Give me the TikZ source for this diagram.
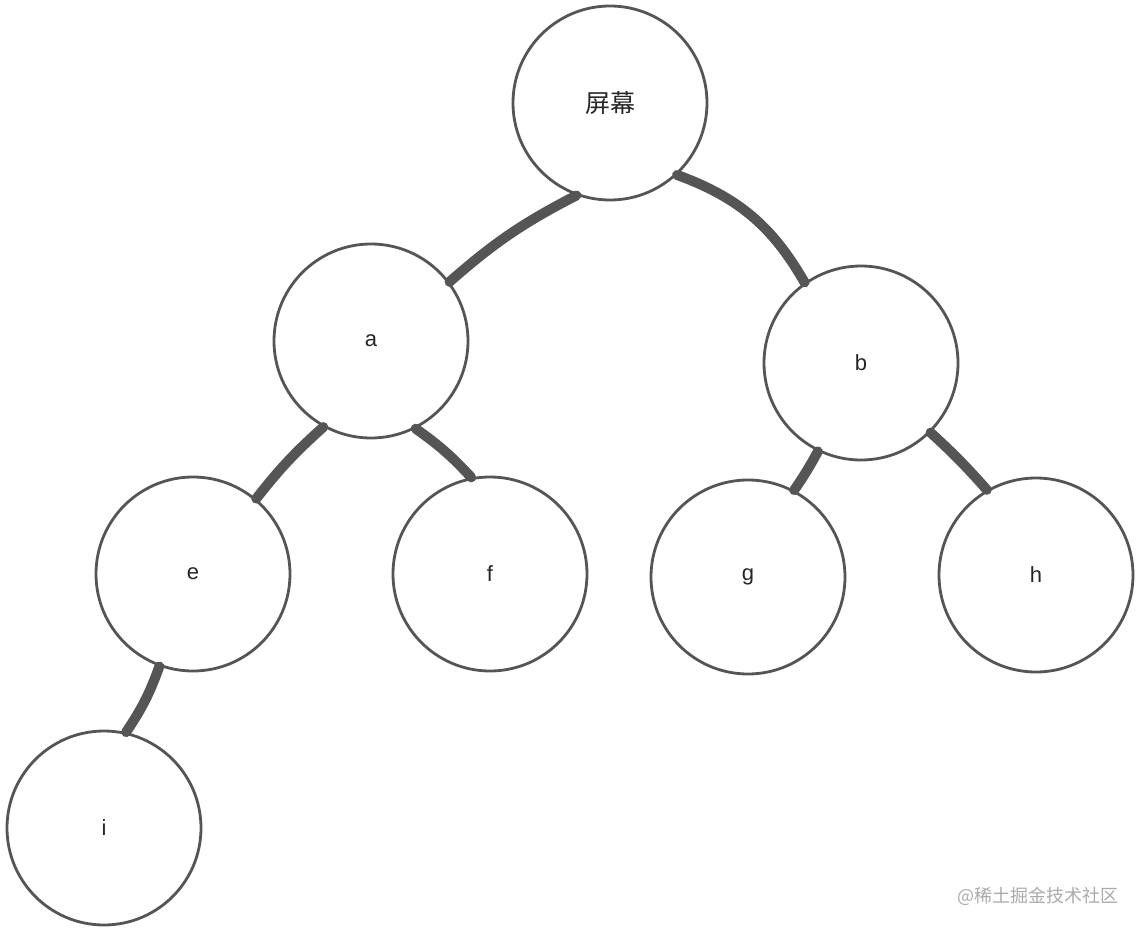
\documentclass[tikz,border=0pt]{standalone}
\usepackage{fontspec}
\setmainfont{Liberation Sans}
\newfontfamily\cjk{Noto Sans CJK SC}
\definecolor{ink}{HTML}{555555}
\definecolor{mark}{HTML}{AAAAAA}
\begin{document}
\begin{tikzpicture}[x=1pt,y=-1pt,
  treenode/.style={circle,draw=ink,line width=2.8pt,minimum size=194pt,inner sep=0pt,font=\fontsize{22}{26}\selectfont,text=black!85},
  link/.style={draw=ink,line width=10pt,line cap=round}]
\path[use as bounding box] (0,0) rectangle (1144,931);
\node[treenode] (root) at (610,103) {\cjk\fontsize{25}{28}\selectfont 屏幕};
\node[treenode] (a) at (371,341) {a};
\node[treenode] (b) at (861,363) {b};
\node[treenode] (e) at (193,574) {e};
\node[treenode] (f) at (490,574) {f};
\node[treenode] (g) at (748,577) {g};
\node[treenode] (h) at (1036,575) {h};
\node[treenode] (i) at (104,828) {i};
\draw[link] (root.250) to[bend right=7] (a.37);
\draw[link] (root.313) to[bend left=20] (b.125);
\draw[link] (a.241) to[bend right=5] (e.50);
\draw[link] (a.297) to[bend left=6] (f.101);
\draw[link] (b.244) to[bend left=3] (g.62);
\draw[link] (b.315) to[bend left=3] (h.120);
\draw[link] (e.250) to[bend left=7] (i.77);
\node[text=mark,font=\cjk\fontsize{18}{21}\selectfont,anchor=center] (wm) at (1038,896) {@稀土掘金技术社区};
\end{tikzpicture}
\end{document}
